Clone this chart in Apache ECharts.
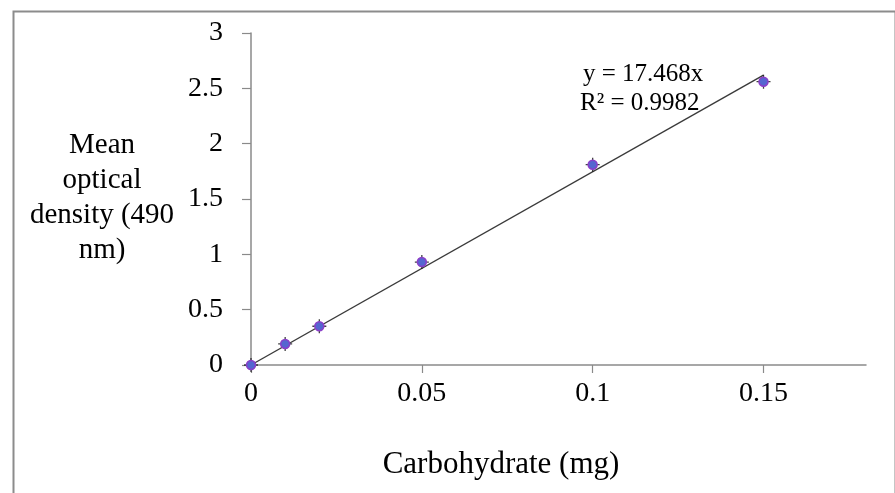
<!DOCTYPE html>
<html>
<head>
<meta charset="utf-8">
<script src="https://cdn.jsdelivr.net/npm/echarts@6/dist/echarts.min.js"></script>
<style>
  html, body { margin: 0; padding: 0; background: #fff; }
  #chart { width: 895px; height: 493px; }
</style>
</head>
<body>
<div id="chart"></div>
<script>
// Carbohydrate standard curve: mean optical density at 490 nm
const carbohydrateMg = [0, 0.01, 0.02, 0.05, 0.1, 0.15];
const meanOD = [0, 0.19, 0.35, 0.93, 1.81, 2.56];
const xTicks = [0, 0.05, 0.1, 0.15];
const yTicks = [0, 0.5, 1, 1.5, 2, 2.5, 3];
const slope = 17.468;
const rSquared = 0.9982;

const FONT = '"Liberation Serif", "Times New Roman", serif';

const points = carbohydrateMg.map((x, i) => [x, meanOD[i]]);
const fitStart = carbohydrateMg[0];
const fitEnd = carbohydrateMg[carbohydrateMg.length - 1];
const trend = [[fitStart, slope * fitStart], [fitEnd, slope * fitEnd]];

const chart = echarts.init(document.getElementById('chart'), null, { renderer: 'canvas' });

chart.setOption({
  animation: false,
  backgroundColor: '#ffffff',
  grid: { left: 251, top: 33, width: 615, height: 332, containLabel: false },
  xAxis: {
    type: 'value',
    min: 0,
    max: 0.18,
    interval: 0.05,
    splitLine: { show: false },
    axisLine: { lineStyle: { color: '#8a8a8a', width: 1.5 } },
    axisTick: { customValues: xTicks, length: 8, lineStyle: { color: '#8a8a8a', width: 1.2 } },
    axisLabel: {
      customValues: xTicks,
      margin: 15,
      color: '#000',
      fontFamily: FONT,
      fontSize: 28
    }
  },
  yAxis: {
    type: 'value',
    min: 0,
    max: 3,
    interval: 0.5,
    splitLine: { show: false },
    axisLine: { show: true, lineStyle: { color: '#8a8a8a', width: 1.5 } },
    axisTick: { show: true, length: 9, lineStyle: { color: '#8a8a8a', width: 1.2 } },
    axisLabel: {
      customValues: yTicks,
      margin: 28,
      color: '#000',
      fontFamily: FONT,
      fontSize: 28
    }
  },
  series: [
    {
      // linear fit through the origin
      type: 'line',
      data: trend,
      symbol: 'none',
      lineStyle: { color: '#3a3a3a', width: 1.4 },
      z: 2
    },
    {
      // short error-bar crosses behind each marker
      type: 'scatter',
      data: points,
      symbol: 'path://M5,0 L5,10 M0,5 L10,5',
      symbolSize: 14,
      itemStyle: { color: 'none', borderColor: '#111', borderWidth: 1.3 },
      z: 3
    },
    {
      type: 'scatter',
      data: points,
      symbol: 'circle',
      symbolSize: 9,
      itemStyle: { color: '#5566d0', borderColor: '#8a3fc8', borderWidth: 1.5, opacity: 1 },
      z: 4
    }
  ],
  graphic: [
    {
      type: 'rect',
      left: 11, top: 9,
      shape: { width: 882, height: 500 },
      style: { fill: 'none', stroke: '#8c8c8c', lineWidth: 2 },
      silent: true,
      z: -1
    },
    {
      type: 'text',
      x: 102, y: 198,
      style: {
        text: 'Mean\noptical\ndensity (490\nnm)',
        fontFamily: FONT,
        fontSize: 29,
        lineHeight: 35,
        fill: '#000',
        align: 'center',
        verticalAlign: 'middle'
      }
    },
    {
      type: 'text',
      x: 501, y: 465,
      style: {
        text: 'Carbohydrate (mg)',
        fontFamily: FONT,
        fontSize: 31,
        fill: '#000',
        align: 'center',
        verticalAlign: 'middle'
      }
    },
    {
      type: 'text',
      x: 583, y: 74,
      style: {
        text: 'y = ' + slope + 'x',
        fontFamily: FONT,
        fontSize: 25,
        fill: '#000',
        align: 'left',
        verticalAlign: 'middle'
      }
    },
    {
      type: 'text',
      x: 580, y: 103,
      style: {
        text: 'R² = ' + rSquared,
        fontFamily: FONT,
        fontSize: 25,
        fill: '#000',
        align: 'left',
        verticalAlign: 'middle'
      }
    }
  ]
});
</script>
</body>
</html>
